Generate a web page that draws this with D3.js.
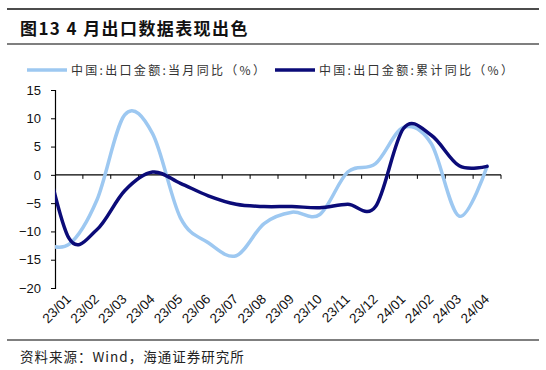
<!DOCTYPE html>
<html>
<head>
<meta charset="utf-8">
<script src="https://cdn.jsdelivr.net/npm/d3@7"></script>
<style>
  body { margin: 0; background: #fff; }
  svg text { font-family: "Liberation Sans", Arial, "Noto Sans CJK SC", sans-serif; }
</style>
</head>
<body>
<div id="chart"></div>
<script>
// months shown on the axis
const months = ["23/01","23/02","23/03","23/04","23/05","23/06","23/07","23/08",
                "23/09","23/10","23/11","23/12","24/01","24/02","24/03","24/04"];
// Dec-22 value, drawn half a band left of the axis and clipped away
const prevMonth = "22/12";
const monthlyPrev = -12.0;
const cumulativePrev = 7.0;
// 中国:出口金额:当月同比
const monthlyYoY = [-12.3, -4.5, 10.6, 7.3, -7.6, -12.0, -14.3, -8.6,
                    -6.6, -7.0, 0.5, 2.0, 8.4, 5.5, -7.3, 1.5];
// 中国:出口金额:累计同比
const cumulativeYoY = [-11.2, -9.7, -2.8, 0.5, -1.5, -3.7, -5.2, -5.6,
                       -5.6, -5.8, -5.2, -5.6, 8.2, 7.0, 1.6, 1.5];
const yTicks = [15, 10, 5, 0, -5, -10, -15, -20];
const seriesNames = ["中国:出口金额:当月同比（%）", "中国:出口金额:累计同比（%）"];

const W = 546, H = 370;
const margin = {top: 90, left: 55, right: 45, bottom: 82};
const width = W - margin.left - margin.right;
const height = H - margin.top - margin.bottom;

const svg = d3.select("#chart").append("svg")
    .attr("width", W).attr("height", H);

// title block
svg.append("line").attr("x1", 7).attr("x2", 539).attr("y1", 9).attr("y2", 9)
    .attr("stroke", "#111").attr("stroke-width", 1.5);
svg.append("text").attr("x", 20).attr("y", 35)
    .attr("font-size", 17).attr("font-weight", "bold").attr("fill", "#111")
    .style("font-family", "'Noto Sans CJK SC', sans-serif")
    .style("letter-spacing", "1.4px")
    .text("图13 4 月出口数据表现出色");
svg.append("line").attr("x1", 7).attr("x2", 539).attr("y1", 44).attr("y2", 44)
    .attr("stroke", "#555").attr("stroke-width", 1.5);

// footer
svg.append("line").attr("x1", 7).attr("x2", 539).attr("y1", 340).attr("y2", 340)
    .attr("stroke", "#555").attr("stroke-width", 1.5);
svg.append("text").attr("x", 20).attr("y", 362)
    .attr("font-size", 13.5).attr("fill", "#222")
    .style("font-family", "'Noto Sans CJK SC', sans-serif")
    .style("letter-spacing", "1px")
    .text("资料来源：Wind，海通证券研究所");

const g = svg.append("g").attr("transform", `translate(${margin.left},${margin.top})`);

const x = d3.scaleBand().domain(months).range([0, width]);
const y = d3.scaleLinear().domain([-20, 15]).range([height, 0]);
const xc = i => x.step() * (i + 0.5);   // band centre by index (-1 = Dec-22)

// y axis
const yAxis = g.append("g")
    .call(d3.axisLeft(y).tickValues(yTicks).tickSize(4).tickPadding(10));
yAxis.select(".domain").attr("stroke", "#000").attr("stroke-width", 1.2);
yAxis.selectAll(".tick line").attr("stroke", "#000");
yAxis.selectAll(".tick text").attr("font-size", 13).attr("fill", "#111")
    .style("font-family", "'Liberation Sans', Arial, sans-serif");

// x axis on the zero line, ticks between bands
const zeroLine = g.append("g").attr("transform", `translate(0,${y(0)})`);
zeroLine.append("line").attr("x1", 0).attr("x2", width)
    .attr("stroke", "#000").attr("stroke-width", 1.2);
zeroLine.selectAll(".xt").data(d3.range(1, months.length + 1)).join("line")
    .attr("x1", i => x.step() * i).attr("x2", i => x.step() * i)
    .attr("y1", 0).attr("y2", 4).attr("stroke", "#000");

// category labels at the bottom, rotated
g.selectAll(".xlab").data(months).join("text")
    .attr("class", "xlab")
    .attr("transform", (d, i) => `translate(${xc(i) + 3},${height + 12}) rotate(-45)`)
    .attr("text-anchor", "end")
    .attr("font-size", 13.5).attr("fill", "#111")
    .style("font-family", "'Liberation Sans', Arial, sans-serif")
    .text(d => d);

// clip lines to the plot area
g.append("clipPath").attr("id", "plotClip").append("rect")
    .attr("x", 0).attr("y", -10).attr("width", width + 20).attr("height", height + 20);

const line = d3.line()
    .x(d => xc(d.i))
    .y(d => y(d.v))
    .curve(d3.curveCardinal.tension(0));

const toPts = (prev, arr) => [{i: -1, v: prev}].concat(arr.map((v, i) => ({i, v})));

const lightBlue = "#9dc8f1";
const navy = "#0b0b78";

g.append("path").datum(toPts(monthlyPrev, monthlyYoY))
    .attr("clip-path", "url(#plotClip)")
    .attr("d", line).attr("fill", "none")
    .attr("stroke", lightBlue).attr("stroke-width", 3.5).attr("stroke-linecap", "round");

g.append("path").datum(toPts(cumulativePrev, cumulativeYoY))
    .attr("clip-path", "url(#plotClip)")
    .attr("d", line).attr("fill", "none")
    .attr("stroke", navy).attr("stroke-width", 3.5).attr("stroke-linecap", "round");

// legend
const legend = svg.append("g");
const legendItems = [
  {name: seriesNames[0], color: lightBlue, x0: 27},
  {name: seriesNames[1], color: navy, x0: 275}
];
legend.selectAll("line").data(legendItems).join("line")
    .attr("x1", d => d.x0).attr("x2", d => d.x0 + 40)
    .attr("y1", 70).attr("y2", 70)
    .attr("stroke", d => d.color).attr("stroke-width", 3.5);
legend.selectAll("text").data(legendItems).join("text")
    .attr("x", d => d.x0 + 44).attr("y", 74.5)
    .attr("font-size", 12).attr("fill", "#333")
    .style("font-family", "'Noto Sans CJK SC', sans-serif")
    .style("letter-spacing", "2.3px")
    .text(d => d.name);
</script>
</body>
</html>
